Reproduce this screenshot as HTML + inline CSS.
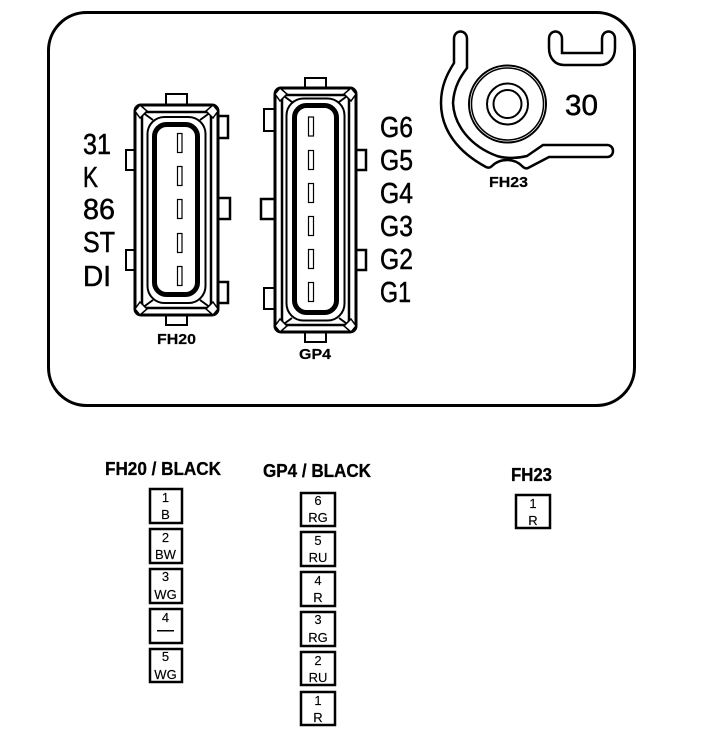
<!DOCTYPE html>
<html><head><meta charset="utf-8"><style>
html,body{margin:0;padding:0;background:#fff}
svg{display:block}
text{font-family:"Liberation Sans",sans-serif;fill:#000}
.b{font-weight:bold;stroke:#000;stroke-width:.3}
.l{font-size:29px;stroke:#000;stroke-width:.5}
.s{font-size:13px;text-anchor:middle;stroke:#000;stroke-width:.15}
.h{font-size:15px;font-weight:bold;stroke:#000;stroke-width:.2}
.o{fill:#fff;stroke:#000;stroke-width:2.500}
</style></head><body>
<svg width="704" height="750" viewBox="0 0 704 750" xmlns="http://www.w3.org/2000/svg">
<rect x="48.500" y="12.500" width="586" height="393" rx="38" fill="#fff" stroke="#000" stroke-width="3"/>

<!-- FH20 -->
<g fill="#fff" stroke="#000" stroke-width="2">
<rect x="166" y="94" width="21" height="12"/>
<rect x="166" y="314" width="21" height="11"/>
<rect x="217" y="116" width="11" height="22" stroke-width="2.500"/>
<rect x="217" y="198" width="13" height="21" stroke-width="2.500"/>
<rect x="217" y="282" width="11" height="21" stroke-width="2.500"/>
<rect x="126" y="150" width="10" height="20"/>
<rect x="126" y="250" width="10" height="20"/>
<rect x="135" y="105" width="83" height="210" rx="6" stroke-width="3"/>
<rect x="142" y="112" width="69" height="196" rx="5" stroke-width="2.500"/>
<path d="M142 112L153 120M211 112L200 120M142 308L153 300M211 308L200 300" stroke-width="2"/>
<rect x="147.500" y="117" width="58" height="186" rx="17" stroke-width="2"/>
<rect x="154.500" y="124.500" width="43" height="170" rx="12" stroke-width="5"/>
<path d="M140 105L147 111L140 118L135 111ZM213 105L218 111L213 118L206 111ZM140 302L147 309L140 315L135 309ZM213 302L218 309L213 315L206 309Z" stroke-width="1.500"/>
<rect x="177.500" y="133.500" width="4.500" height="19" stroke-width="1.200"/>
<rect x="177.500" y="166.500" width="4.500" height="19" stroke-width="1.200"/>
<rect x="177.500" y="199.500" width="4.500" height="19" stroke-width="1.200"/>
<rect x="177.500" y="233.500" width="4.500" height="19" stroke-width="1.200"/>
<rect x="177.500" y="266.500" width="4.500" height="19" stroke-width="1.200"/>
</g>

<!-- GP4 -->
<g fill="#fff" stroke="#000" stroke-width="2">
<rect x="305" y="78" width="21" height="12"/>
<rect x="305" y="330" width="21" height="12"/>
<rect x="264" y="109" width="11" height="22"/>
<rect x="261" y="199" width="14" height="20" stroke-width="2.500"/>
<rect x="264" y="288" width="11" height="21"/>
<rect x="355" y="150" width="11" height="20" stroke-width="2.500"/>
<rect x="355" y="250" width="11" height="20" stroke-width="2.500"/>
<rect x="275" y="88" width="81" height="244" rx="6" stroke-width="3"/>
<rect x="282" y="95" width="67" height="230" rx="5" stroke-width="2.500"/>
<path d="M281 94L292 102M350 94L339 102M281 326L292 318M350 326L339 318" stroke-width="2"/>
<rect x="286.500" y="98.500" width="58" height="222" rx="17" stroke-width="2"/>
<rect x="294.500" y="105.500" width="42" height="207" rx="12" stroke-width="5"/>
<path d="M280 88L287 94L280 101L275 94ZM351 88L356 94L351 101L344 94ZM280 319L287 326L280 332L275 326ZM351 319L356 326L351 332L344 326Z" stroke-width="1.500"/>
<rect x="308.500" y="117" width="5" height="19" stroke-width="1.200"/>
<rect x="308.500" y="150.500" width="5" height="19" stroke-width="1.200"/>
<rect x="308.500" y="183.500" width="5" height="19" stroke-width="1.200"/>
<rect x="308.500" y="216.500" width="5" height="19" stroke-width="1.200"/>
<rect x="308.500" y="249.500" width="5" height="19" stroke-width="1.200"/>
<rect x="308.500" y="282.500" width="5" height="19" stroke-width="1.200"/>
</g>

<!-- FH23 -->
<g fill="none" stroke="#000" stroke-width="2.500">
<path d="M454 39C454 29 467 29 467 39V68C461 76 454 86 453 103C454 125 470 146 497 156C507 159 519 158 527 156L543 145H607C615 145 615 157 607 157H549L528 168C526 169 524 168 522 166C514 158 500 158 492 166C490 168 488 168 486 167C458 152 441 130 441 103C441 86 447 74 454 63Z"/>
<path d="M549 39C549 29 562 29 562 39V53H602V39C602 29 615 29 615 39V48C615 58 609 65 600 65H564C555 65 549 58 549 48Z"/>
<circle cx="507.500" cy="104" r="38.500" stroke-width="2"/>
<circle cx="507.500" cy="104" r="36" stroke-width="1.500"/>
<circle cx="507.500" cy="104" r="20.500" stroke-width="2"/>
<circle cx="507.500" cy="104" r="14" stroke-width="2"/>
</g>

<!-- Pin labels -->
<text class="l" x="83" y="154" textLength="28" lengthAdjust="spacingAndGlyphs">31</text>
<text class="l" x="83" y="187" textLength="15" lengthAdjust="spacingAndGlyphs">K</text>
<text class="l" x="83" y="219" textLength="32" lengthAdjust="spacingAndGlyphs">86</text>
<text class="l" x="83" y="252" textLength="32" lengthAdjust="spacingAndGlyphs">ST</text>
<text class="l" x="83" y="286" textLength="28" lengthAdjust="spacingAndGlyphs">DI</text>
<text class="l" x="380" y="137" textLength="33" lengthAdjust="spacingAndGlyphs">G6</text>
<text class="l" x="380" y="170" textLength="33" lengthAdjust="spacingAndGlyphs">G5</text>
<text class="l" x="380" y="203" textLength="33" lengthAdjust="spacingAndGlyphs">G4</text>
<text class="l" x="380" y="236" textLength="33" lengthAdjust="spacingAndGlyphs">G3</text>
<text class="l" x="380" y="269" textLength="33" lengthAdjust="spacingAndGlyphs">G2</text>
<text class="l" x="380" y="302" textLength="31" lengthAdjust="spacingAndGlyphs">G1</text>
<text class="l" x="565" y="115" textLength="33" lengthAdjust="spacingAndGlyphs">30</text>

<text class="h" x="157" y="344" textLength="39" lengthAdjust="spacingAndGlyphs">FH20</text>
<text class="h" x="299" y="359" textLength="32" lengthAdjust="spacingAndGlyphs">GP4</text>
<text class="h" x="489" y="187" textLength="39" lengthAdjust="spacingAndGlyphs">FH23</text>

<text class="b" font-size="18" x="105" y="475" textLength="116" lengthAdjust="spacingAndGlyphs">FH20 / BLACK</text>
<text class="b" font-size="18" x="263" y="477" textLength="108" lengthAdjust="spacingAndGlyphs">GP4 / BLACK</text>
<text class="b" font-size="18" x="511" y="481" textLength="41" lengthAdjust="spacingAndGlyphs">FH23</text>

<!-- FH20 boxes -->
<rect class="o" x="150" y="489" width="32" height="34"/>
<text class="s" x="165.500" y="502">1</text><text class="s" x="165.500" y="519">B</text>
<rect class="o" x="150" y="529" width="32" height="34"/>
<text class="s" x="165.500" y="542">2</text><text class="s" x="165.500" y="559">BW</text>
<rect class="o" x="150" y="569" width="32" height="34"/>
<text class="s" x="165.500" y="581">3</text><text class="s" x="165.500" y="599">WG</text>
<rect class="o" x="150" y="609" width="32" height="34"/>
<text class="s" x="165.500" y="622">4</text><rect x="157" y="630" width="17" height="1.500"/>
<rect class="o" x="150" y="649" width="32" height="33"/>
<text class="s" x="165.500" y="661">5</text><text class="s" x="165.500" y="679">WG</text>

<!-- GP4 boxes -->
<rect class="o" x="301" y="493" width="34" height="33"/>
<text class="s" x="318" y="505">6</text><text class="s" x="318" y="522">RG</text>
<rect class="o" x="301" y="532" width="34" height="34"/>
<text class="s" x="318" y="545">5</text><text class="s" x="318" y="562">RU</text>
<rect class="o" x="301" y="572" width="34" height="34"/>
<text class="s" x="318" y="585">4</text><text class="s" x="318" y="602">R</text>
<rect class="o" x="301" y="612" width="34" height="34"/>
<text class="s" x="318" y="624">3</text><text class="s" x="318" y="642">RG</text>
<rect class="o" x="301" y="652" width="34" height="33"/>
<text class="s" x="318" y="665">2</text><text class="s" x="318" y="682">RU</text>
<rect class="o" x="301" y="692" width="34" height="33"/>
<text class="s" x="318" y="705">1</text><text class="s" x="318" y="722">R</text>

<!-- FH23 box -->
<rect class="o" x="516" y="495" width="34" height="33"/>
<text class="s" x="533" y="508">1</text><text class="s" x="533" y="525">R</text>
</svg>
</body></html>
